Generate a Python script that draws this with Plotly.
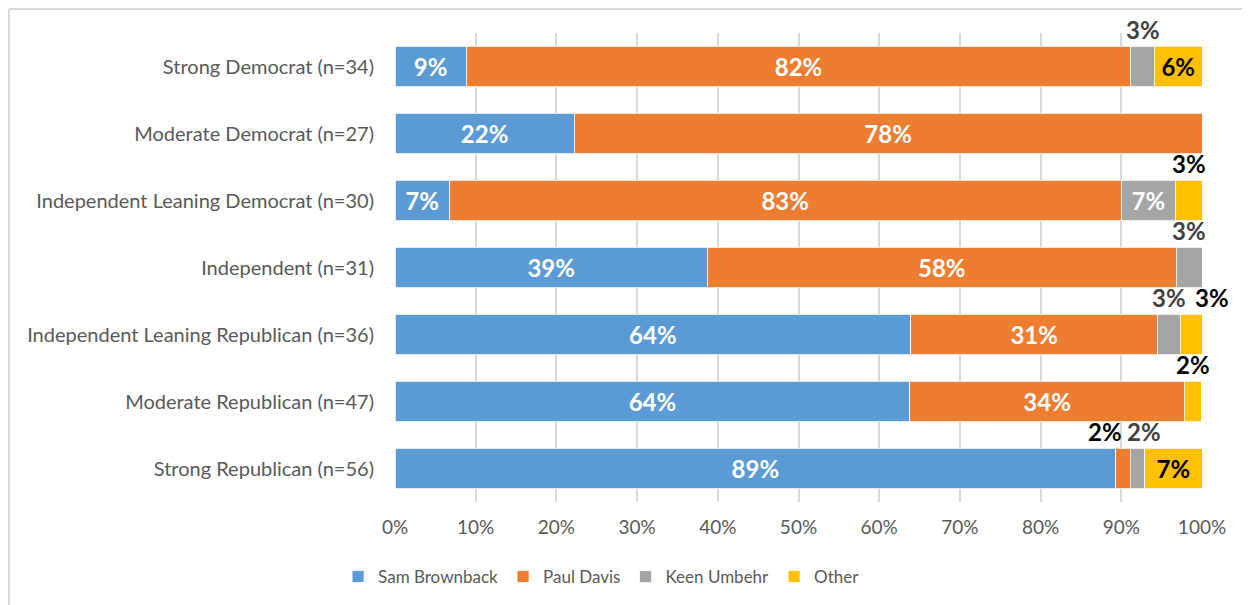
import plotly.graph_objects as go

categories = [
    "Strong Democrat (n=34)",
    "Moderate Democrat (n=27)",
    "Independent Leaning Democrat (n=30)",
    "Independent (n=31)",
    "Independent Leaning Republican (n=36)",
    "Moderate Republican (n=47)",
    "Strong Republican (n=56)",
]
series_names = ["Sam Brownback", "Paul Davis", "Keen Umbehr", "Other"]
brownback = [8.8, 22.2, 6.7, 38.7, 63.9, 63.8, 89.3]
davis = [82.4, 77.8, 83.3, 58.1, 30.6, 34.0, 1.8]
umbehr = [2.9, 0.0, 6.7, 3.2, 2.8, 0.0, 1.8]
other = [5.9, 0.0, 3.3, 0.0, 2.8, 2.1, 7.1]
x_ticks = [0, 10, 20, 30, 40, 50, 60, 70, 80, 90, 100]

series_values = [brownback, davis, umbehr, other]
colors = ["#5B9BD5", "#ED7D31", "#A5A5A5", "#FFC000"]
inside_text_colors = ["white", "white", "white", "black"]
outside_text_colors = ["black", "black", "#404040", "black"]
FONT = "Lato, Calibri, Carlito, sans-serif"

# figure is placed by the page at (8, 8); sizes below compensate
W, H = 1242, 597
ML, MR, MT, MB = 387, 48, 25, 103
PW, PH = W - ML - MR, H - MT - MB

label_xshift = {(1, 6): -18, (2, 6): 7, (3, 4): 20}

fig = go.Figure()
annotations = []
cum = [0.0] * len(categories)
for si, (name, vals) in enumerate(zip(series_names, series_values)):
    texts = []
    for ci, v in enumerate(vals):
        if v >= 5:
            texts.append(f"{round(v)}%")
        else:
            texts.append("")
            if v > 0:
                annotations.append(dict(
                    x=cum[ci] + v / 2, y=categories[ci], xref="x", yref="y",
                    text=f"<b>{round(v)}%</b>", showarrow=False,
                    yanchor="middle", yshift=37, xshift=label_xshift.get((si, ci), 0),
                    font=dict(family=FONT, size=24, color=outside_text_colors[si]),
                ))
        cum[ci] += v
    fig.add_trace(go.Bar(
        y=categories, x=vals, name=name, orientation="h",
        marker=dict(color=colors[si], line=dict(color="white", width=0.8)),
        text=texts, textposition="inside", insidetextanchor="middle",
        textangle=0,
        textfont=dict(family=FONT, size=24, color=inside_text_colors[si], weight="bold"),
        hoverinfo="skip",
    ))

# chart border (left and top edges)
shapes = [
    dict(type="line", xref="paper", yref="paper",
         x0=-(ML - 1) / PW, x1=1 + MR / PW, y0=1 + (MT - 1) / PH, y1=1 + (MT - 1) / PH,
         line=dict(color="#D9D9D9", width=2)),
    dict(type="line", xref="paper", yref="paper",
         x0=-(ML - 1) / PW, x1=-(ML - 1) / PW, y0=1 + (MT - 1) / PH, y1=-MB / PH,
         line=dict(color="#D9D9D9", width=2)),
]

fig.update_layout(
    barmode="stack",
    bargap=0.39,
    width=W, height=H,
    margin=dict(l=ML, r=MR, t=MT, b=MB, autoexpand=False),
    paper_bgcolor="white", plot_bgcolor="white",
    font=dict(family=FONT, size=20, color="#595959"),
    xaxis=dict(range=[0, 100], tickvals=x_ticks, ticktext=[f"{t}%" for t in x_ticks],
               showgrid=True, gridcolor="#D9D9D9", gridwidth=1.5, zeroline=False,
               tickfont=dict(size=19, color="#595959"), ticks="", ticklen=0,
               automargin=False, ticklabelstandoff=12),
    yaxis=dict(range=[len(categories) - 0.5, -0.5], showgrid=False, ticks="",
               automargin=False, ticklabelstandoff=20,
               tickfont=dict(size=20, color="#595959")),
    legend=dict(orientation="h", x=0.256, xanchor="center",
                yref="container", y=28 / H, yanchor="middle",
                font=dict(size=17, color="#595959"), itemwidth=30, traceorder="normal"),
    annotations=annotations,
    shapes=shapes,
    showlegend=True,
)
fig.write_html("out.html")
